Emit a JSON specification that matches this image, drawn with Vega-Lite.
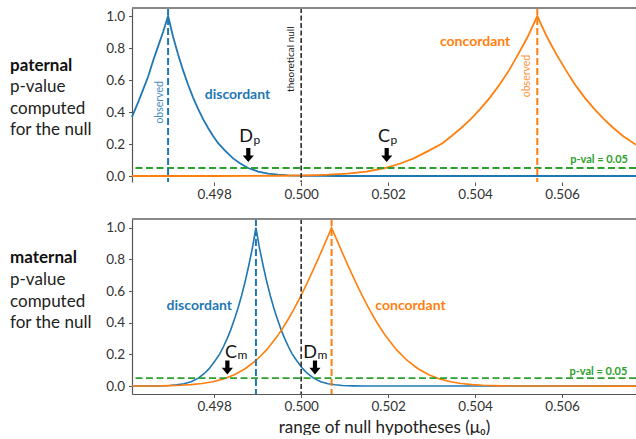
{
  "$schema": "https://vega.github.io/schema/vega-lite/v6.json",
  "background": "white",
  "padding": {"left": 10, "top": 7, "right": 0, "bottom": 0},
  "bounds": "flush",
  "spacing": 37,
  "config": {
    "view": {"stroke": null},
    "font": "Lato",
    "text": {"font": "Lato"},
    "axis": {"labelFont": "Lato", "labelFontSize": 13.5, "labelColor": "#333", "tickColor": "#555", "tickSize": 3.5, "domainColor": "#555", "domainWidth": 1.2, "grid": false, "titleFont": "Lato", "titleFontWeight": "normal", "titleColor": "#222", "labelOverlap": false}
  },
  "datasets": {
    "top": [
      {"x": 0.49611, "p": 0.37, "series": "discordant"},
      {"x": 0.49625, "p": 0.46, "series": "discordant"},
      {"x": 0.496365, "p": 0.54, "series": "discordant"},
      {"x": 0.49648, "p": 0.62, "series": "discordant"},
      {"x": 0.496595, "p": 0.72, "series": "discordant"},
      {"x": 0.49671, "p": 0.81, "series": "discordant"},
      {"x": 0.496825, "p": 0.9, "series": "discordant"},
      {"x": 0.49694, "p": 1.0, "series": "discordant"},
      {"x": 0.497055, "p": 0.87, "series": "discordant"},
      {"x": 0.49717, "p": 0.76, "series": "discordant"},
      {"x": 0.497285, "p": 0.66, "series": "discordant"},
      {"x": 0.4974, "p": 0.57, "series": "discordant"},
      {"x": 0.497515, "p": 0.49, "series": "discordant"},
      {"x": 0.49763, "p": 0.42, "series": "discordant"},
      {"x": 0.497745, "p": 0.355, "series": "discordant"},
      {"x": 0.49786, "p": 0.3, "series": "discordant"},
      {"x": 0.497975, "p": 0.25, "series": "discordant"},
      {"x": 0.49809, "p": 0.205, "series": "discordant"},
      {"x": 0.498244, "p": 0.16, "series": "discordant"},
      {"x": 0.498435, "p": 0.11, "series": "discordant"},
      {"x": 0.4986, "p": 0.078, "series": "discordant"},
      {"x": 0.49878, "p": 0.05, "series": "discordant"},
      {"x": 0.49901, "p": 0.028, "series": "discordant"},
      {"x": 0.49924, "p": 0.015, "series": "discordant"},
      {"x": 0.49947, "p": 0.008, "series": "discordant"},
      {"x": 0.4997, "p": 0.004, "series": "discordant"},
      {"x": 0.500045, "p": 0.0015, "series": "discordant"},
      {"x": 0.50039, "p": 0.0005, "series": "discordant"},
      {"x": 0.50085, "p": 0.0001, "series": "discordant"},
      {"x": 0.5077, "p": 0, "series": "discordant"},
      {"x": 0.49611, "p": 0, "series": "concordant"},
      {"x": 0.498, "p": 0.0001, "series": "concordant"},
      {"x": 0.49888, "p": 0.0005, "series": "concordant"},
      {"x": 0.49953, "p": 0.0015, "series": "concordant"},
      {"x": 0.50019, "p": 0.004, "series": "concordant"},
      {"x": 0.50062, "p": 0.008, "series": "concordant"},
      {"x": 0.50106, "p": 0.015, "series": "concordant"},
      {"x": 0.5015, "p": 0.028, "series": "concordant"},
      {"x": 0.50193, "p": 0.05, "series": "concordant"},
      {"x": 0.50228, "p": 0.078, "series": "concordant"},
      {"x": 0.50259, "p": 0.11, "series": "concordant"},
      {"x": 0.50295, "p": 0.16, "series": "concordant"},
      {"x": 0.50325, "p": 0.205, "series": "concordant"},
      {"x": 0.50346, "p": 0.25, "series": "concordant"},
      {"x": 0.50368, "p": 0.3, "series": "concordant"},
      {"x": 0.5039, "p": 0.355, "series": "concordant"},
      {"x": 0.50412, "p": 0.42, "series": "concordant"},
      {"x": 0.50434, "p": 0.49, "series": "concordant"},
      {"x": 0.50456, "p": 0.57, "series": "concordant"},
      {"x": 0.50478, "p": 0.66, "series": "concordant"},
      {"x": 0.50499, "p": 0.76, "series": "concordant"},
      {"x": 0.50521, "p": 0.87, "series": "concordant"},
      {"x": 0.50543, "p": 1.0, "series": "concordant"},
      {"x": 0.50565, "p": 0.87, "series": "concordant"},
      {"x": 0.50587, "p": 0.76, "series": "concordant"},
      {"x": 0.50609, "p": 0.66, "series": "concordant"},
      {"x": 0.5063, "p": 0.57, "series": "concordant"},
      {"x": 0.50652, "p": 0.49, "series": "concordant"},
      {"x": 0.50674, "p": 0.42, "series": "concordant"},
      {"x": 0.50696, "p": 0.355, "series": "concordant"},
      {"x": 0.50718, "p": 0.3, "series": "concordant"},
      {"x": 0.5074, "p": 0.25, "series": "concordant"},
      {"x": 0.5077, "p": 0.195, "series": "concordant"}
    ],
    "bottom": [
      {"x": 0.49611, "p": 0.0001, "series": "discordant"},
      {"x": 0.496476, "p": 0.0005, "series": "discordant"},
      {"x": 0.496724, "p": 0.0015, "series": "discordant"},
      {"x": 0.496973, "p": 0.004, "series": "discordant"},
      {"x": 0.497138, "p": 0.008, "series": "discordant"},
      {"x": 0.497304, "p": 0.015, "series": "discordant"},
      {"x": 0.49747, "p": 0.028, "series": "discordant"},
      {"x": 0.497635, "p": 0.05, "series": "discordant"},
      {"x": 0.497768, "p": 0.078, "series": "discordant"},
      {"x": 0.497884, "p": 0.11, "series": "discordant"},
      {"x": 0.498021, "p": 0.16, "series": "discordant"},
      {"x": 0.498132, "p": 0.205, "series": "discordant"},
      {"x": 0.498215, "p": 0.25, "series": "discordant"},
      {"x": 0.498298, "p": 0.3, "series": "discordant"},
      {"x": 0.49838, "p": 0.355, "series": "discordant"},
      {"x": 0.498463, "p": 0.42, "series": "discordant"},
      {"x": 0.498546, "p": 0.49, "series": "discordant"},
      {"x": 0.498629, "p": 0.57, "series": "discordant"},
      {"x": 0.498712, "p": 0.66, "series": "discordant"},
      {"x": 0.498794, "p": 0.76, "series": "discordant"},
      {"x": 0.498877, "p": 0.87, "series": "discordant"},
      {"x": 0.49896, "p": 1.0, "series": "discordant"},
      {"x": 0.499043, "p": 0.87, "series": "discordant"},
      {"x": 0.499126, "p": 0.76, "series": "discordant"},
      {"x": 0.499208, "p": 0.66, "series": "discordant"},
      {"x": 0.499291, "p": 0.57, "series": "discordant"},
      {"x": 0.499374, "p": 0.49, "series": "discordant"},
      {"x": 0.499457, "p": 0.42, "series": "discordant"},
      {"x": 0.49954, "p": 0.355, "series": "discordant"},
      {"x": 0.499622, "p": 0.3, "series": "discordant"},
      {"x": 0.499705, "p": 0.25, "series": "discordant"},
      {"x": 0.499788, "p": 0.205, "series": "discordant"},
      {"x": 0.499899, "p": 0.16, "series": "discordant"},
      {"x": 0.500036, "p": 0.11, "series": "discordant"},
      {"x": 0.500152, "p": 0.078, "series": "discordant"},
      {"x": 0.500285, "p": 0.05, "series": "discordant"},
      {"x": 0.50045, "p": 0.028, "series": "discordant"},
      {"x": 0.500616, "p": 0.015, "series": "discordant"},
      {"x": 0.500782, "p": 0.008, "series": "discordant"},
      {"x": 0.500947, "p": 0.004, "series": "discordant"},
      {"x": 0.501196, "p": 0.0015, "series": "discordant"},
      {"x": 0.501444, "p": 0.0005, "series": "discordant"},
      {"x": 0.501775, "p": 0.0001, "series": "discordant"},
      {"x": 0.5077, "p": 0, "series": "discordant"},
      {"x": 0.49611, "p": 0.0002, "series": "concordant"},
      {"x": 0.496229, "p": 0.00032, "series": "concordant"},
      {"x": 0.496601, "p": 0.00097, "series": "concordant"},
      {"x": 0.496974, "p": 0.0027, "series": "concordant"},
      {"x": 0.497222, "p": 0.0051, "series": "concordant"},
      {"x": 0.497471, "p": 0.0093, "series": "concordant"},
      {"x": 0.497719, "p": 0.0164, "series": "concordant"},
      {"x": 0.497968, "p": 0.0278, "series": "concordant"},
      {"x": 0.498216, "p": 0.0455, "series": "concordant"},
      {"x": 0.498464, "p": 0.0719, "series": "concordant"},
      {"x": 0.498713, "p": 0.1096, "series": "concordant"},
      {"x": 0.498961, "p": 0.1615, "series": "concordant"},
      {"x": 0.49921, "p": 0.2301, "series": "concordant"},
      {"x": 0.499458, "p": 0.3173, "series": "concordant"},
      {"x": 0.499582, "p": 0.3681, "series": "concordant"},
      {"x": 0.499706, "p": 0.4237, "series": "concordant"},
      {"x": 0.499831, "p": 0.4839, "series": "concordant"},
      {"x": 0.499955, "p": 0.5485, "series": "concordant"},
      {"x": 0.500079, "p": 0.6171, "series": "concordant"},
      {"x": 0.500203, "p": 0.6892, "series": "concordant"},
      {"x": 0.500327, "p": 0.7642, "series": "concordant"},
      {"x": 0.500452, "p": 0.8415, "series": "concordant"},
      {"x": 0.500576, "p": 0.9203, "series": "concordant"},
      {"x": 0.5007, "p": 1.0, "series": "concordant"},
      {"x": 0.500824, "p": 0.9203, "series": "concordant"},
      {"x": 0.500948, "p": 0.8415, "series": "concordant"},
      {"x": 0.501073, "p": 0.7642, "series": "concordant"},
      {"x": 0.501197, "p": 0.6892, "series": "concordant"},
      {"x": 0.501321, "p": 0.6171, "series": "concordant"},
      {"x": 0.501445, "p": 0.5485, "series": "concordant"},
      {"x": 0.501569, "p": 0.4839, "series": "concordant"},
      {"x": 0.501694, "p": 0.4237, "series": "concordant"},
      {"x": 0.501818, "p": 0.3681, "series": "concordant"},
      {"x": 0.501942, "p": 0.3173, "series": "concordant"},
      {"x": 0.50219, "p": 0.2301, "series": "concordant"},
      {"x": 0.502439, "p": 0.1615, "series": "concordant"},
      {"x": 0.502687, "p": 0.1096, "series": "concordant"},
      {"x": 0.502936, "p": 0.0719, "series": "concordant"},
      {"x": 0.503184, "p": 0.0455, "series": "concordant"},
      {"x": 0.503432, "p": 0.0278, "series": "concordant"},
      {"x": 0.503681, "p": 0.0164, "series": "concordant"},
      {"x": 0.503929, "p": 0.0093, "series": "concordant"},
      {"x": 0.504178, "p": 0.0051, "series": "concordant"},
      {"x": 0.504426, "p": 0.0027, "series": "concordant"},
      {"x": 0.504799, "p": 0.00097, "series": "concordant"},
      {"x": 0.505171, "p": 0.00032, "series": "concordant"},
      {"x": 0.505668, "p": 0.00006, "series": "concordant"},
      {"x": 0.5077, "p": 0, "series": "concordant"}
    ],
    "topRules": [
      {"x": 0.49694, "series": "discordant"},
      {"x": 0.50543, "series": "concordant"}
    ],
    "bottomRules": [
      {"x": 0.49896, "series": "discordant"},
      {"x": 0.5007, "series": "concordant"}
    ]
  },
  "vconcat": [
    {
      "width": 504,
      "height": 174,
      "layer": [
        {"data": {"name": "top"}, "mark": {"type": "line", "strokeWidth": 1.8},
          "encoding": {
            "x": {"field": "x", "type": "quantitative", "scale": {"domain": [0.49611, 0.5077], "nice": false, "zero": false}, "axis": {"values": [0.498, 0.5, 0.502, 0.504, 0.506], "format": ".3f", "title": null, "domain": false, "labelPadding": 2}},
            "y": {"field": "p", "type": "quantitative", "scale": {"domain": [-0.0375, 1.05], "nice": false, "zero": false}, "axis": {"values": [0, 0.2, 0.4, 0.6, 0.8, 1.0], "format": ".1f", "title": null, "labelPadding": 4}},
            "color": {"field": "series", "type": "nominal", "scale": {"domain": ["discordant", "concordant"], "range": ["#1f77b4", "#ff7f0e"]}, "legend": null}
          }},
        {"data": {"values": [{"y": 0.05}]}, "mark": {"type": "rule", "color": "#2ca02c", "strokeWidth": 2, "strokeDash": [7, 3.5]},
          "encoding": {"y": {"field": "y", "type": "quantitative", "axis": {"values": [0, 0.2, 0.4, 0.6, 0.8, 1.0], "format": ".1f", "title": null, "labelPadding": 4}}}},
        {"data": {"name": "topRules"}, "mark": {"type": "rule", "strokeWidth": 2, "strokeDash": [7, 3]},
          "encoding": {"x": {"field": "x", "type": "quantitative", "axis": {"values": [0.498, 0.5, 0.502, 0.504, 0.506], "format": ".3f", "title": null, "domain": false, "labelPadding": 2}}, "color": {"field": "series", "type": "nominal", "legend": null}}},
        {"data": {"values": [{"x": 0.5}]}, "mark": {"type": "rule", "color": "#222222", "strokeWidth": 1.5, "strokeDash": [5, 2.5]},
          "encoding": {"x": {"field": "x", "type": "quantitative", "axis": {"values": [0.498, 0.5, 0.502, 0.504, 0.506], "format": ".3f", "title": null, "domain": false, "labelPadding": 2}}}},
        {"data": {"values": [{"y": 1.05}]}, "mark": {"type": "rule", "color": "#888888", "strokeWidth": 2},
          "encoding": {"y": {"field": "y", "type": "quantitative", "axis": {"values": [0, 0.2, 0.4, 0.6, 0.8, 1.0], "format": ".1f", "title": null, "labelPadding": 4}}}},
        {"data": {"values": [
            {"x": 0.498536, "y": 0.506, "text": "discordant", "series": "discordant", "kind": "big"},
            {"x": 0.5040, "y": 0.84, "text": "concordant", "series": "concordant", "kind": "big"}]},
          "mark": {"type": "text", "fontSize": 14, "fontWeight": "bold", "align": "center", "baseline": "middle"},
          "encoding": {"x": {"field": "x", "type": "quantitative", "axis": {"values": [0.498, 0.5, 0.502, 0.504, 0.506], "format": ".3f", "title": null, "domain": false, "labelPadding": 2}}, "y": {"field": "y", "type": "quantitative", "axis": {"values": [0, 0.2, 0.4, 0.6, 0.8, 1.0], "format": ".1f", "title": null, "labelPadding": 4}}, "text": {"field": "text"}, "color": {"field": "series", "type": "nominal", "legend": null}}},
        {"data": {"values": [{"x": 0.49675, "y": 0.46, "text": "observed", "series": "discordant"}, {"x": 0.505187, "y": 0.625, "text": "observed", "series": "concordant"}]},
          "mark": {"type": "text", "fontSize": 10.5, "angle": 270, "align": "center", "baseline": "middle", "opacity": 0.85},
          "encoding": {"x": {"field": "x", "type": "quantitative", "axis": {"values": [0.498, 0.5, 0.502, 0.504, 0.506], "format": ".3f", "title": null, "domain": false, "labelPadding": 2}}, "y": {"field": "y", "type": "quantitative", "axis": {"values": [0, 0.2, 0.4, 0.6, 0.8, 1.0], "format": ".1f", "title": null, "labelPadding": 4}}, "text": {"field": "text"}, "color": {"field": "series", "type": "nominal", "legend": null}}},
        {"data": {"values": [{"x": 0.49976, "y": 0.73, "text": "theoretical null"}]},
          "mark": {"type": "text", "fontSize": 10, "angle": 270, "align": "center", "baseline": "middle", "color": "#222"},
          "encoding": {"x": {"field": "x", "type": "quantitative", "axis": {"values": [0.498, 0.5, 0.502, 0.504, 0.506], "format": ".3f", "title": null, "domain": false, "labelPadding": 2}}, "y": {"field": "y", "type": "quantitative", "axis": {"values": [0, 0.2, 0.4, 0.6, 0.8, 1.0], "format": ".1f", "title": null, "labelPadding": 4}}, "text": {"field": "text"}}},
        {"data": {"values": [{"x": 0.507516, "y": 0.10, "text": "p-val = 0.05"}]},
          "mark": {"type": "text", "fontSize": 11, "fontWeight": "bold", "align": "right", "baseline": "middle", "color": "#2ca02c"},
          "encoding": {"x": {"field": "x", "type": "quantitative", "axis": {"values": [0.498, 0.5, 0.502, 0.504, 0.506], "format": ".3f", "title": null, "domain": false, "labelPadding": 2}}, "y": {"field": "y", "type": "quantitative", "axis": {"values": [0, 0.2, 0.4, 0.6, 0.8, 1.0], "format": ".1f", "title": null, "labelPadding": 4}}, "text": {"field": "text"}}},
        {"data": {"values": [{"x": 0.498893, "y": 0.214, "text": "D"}, {"x": 0.502043, "y": 0.214, "text": "C"}]},
          "mark": {"type": "text", "fontSize": 18, "align": "right", "baseline": "alphabetic", "color": "#111"},
          "encoding": {"x": {"field": "x", "type": "quantitative", "axis": {"values": [0.498, 0.5, 0.502, 0.504, 0.506], "format": ".3f", "title": null, "domain": false, "labelPadding": 2}}, "y": {"field": "y", "type": "quantitative", "axis": {"values": [0, 0.2, 0.4, 0.6, 0.8, 1.0], "format": ".1f", "title": null, "labelPadding": 4}}, "text": {"field": "text"}}},
        {"data": {"values": [{"x": 0.498893, "y": 0.214, "text": "p"}, {"x": 0.502043, "y": 0.214, "text": "p"}]},
          "mark": {"type": "text", "fontSize": 12, "align": "left", "baseline": "alphabetic", "dx": 0.5, "dy": 2, "color": "#111"},
          "encoding": {"x": {"field": "x", "type": "quantitative", "axis": {"values": [0.498, 0.5, 0.502, 0.504, 0.506], "format": ".3f", "title": null, "domain": false, "labelPadding": 2}}, "y": {"field": "y", "type": "quantitative", "axis": {"values": [0, 0.2, 0.4, 0.6, 0.8, 1.0], "format": ".1f", "title": null, "labelPadding": 4}}, "text": {"field": "text"}}},
        {"data": {"values": [{"x": 0.498784, "y": 0.131}, {"x": 0.501967, "y": 0.131}]},
          "mark": {"type": "point", "shape": "M-0.3,-1L0.3,-1L0.3,0.05L0.8,0.05L0,1L-0.8,0.05L-0.3,0.05Z", "size": 196, "filled": true, "color": "#000", "opacity": 1, "strokeWidth": 0},
          "encoding": {"x": {"field": "x", "type": "quantitative", "axis": {"values": [0.498, 0.5, 0.502, 0.504, 0.506], "format": ".3f", "title": null, "domain": false, "labelPadding": 2}}, "y": {"field": "y", "type": "quantitative", "axis": {"values": [0, 0.2, 0.4, 0.6, 0.8, 1.0], "format": ".1f", "title": null, "labelPadding": 4}}}},
        {"data": {"values": [{"x": 0.493305, "y": 0.656, "text": "paternal"}]},
          "mark": {"type": "text", "fontSize": 17, "fontWeight": "bold", "align": "left", "baseline": "alphabetic", "color": "#111"},
          "encoding": {"x": {"field": "x", "type": "quantitative", "axis": {"values": [0.498, 0.5, 0.502, 0.504, 0.506], "format": ".3f", "title": null, "domain": false, "labelPadding": 2}}, "y": {"field": "y", "type": "quantitative", "axis": {"values": [0, 0.2, 0.4, 0.6, 0.8, 1.0], "format": ".1f", "title": null, "labelPadding": 4}}, "text": {"field": "text"}}},
        {"data": {"values": [{"x": 0.493305, "y": 0.523, "text": "p-value"}, {"x": 0.493305, "y": 0.389, "text": "computed"}, {"x": 0.493305, "y": 0.256, "text": "for the null"}]},
          "mark": {"type": "text", "fontSize": 17, "align": "left", "baseline": "alphabetic", "color": "#222"},
          "encoding": {"x": {"field": "x", "type": "quantitative", "axis": {"values": [0.498, 0.5, 0.502, 0.504, 0.506], "format": ".3f", "title": null, "domain": false, "labelPadding": 2}}, "y": {"field": "y", "type": "quantitative", "axis": {"values": [0, 0.2, 0.4, 0.6, 0.8, 1.0], "format": ".1f", "title": null, "labelPadding": 4}}, "text": {"field": "text"}}}
      ]
    },
    {
      "width": 504,
      "height": 175,
      "layer": [
        {"data": {"name": "bottom"}, "mark": {"type": "line", "strokeWidth": 1.6},
          "encoding": {
            "x": {"field": "x", "type": "quantitative", "scale": {"domain": [0.49611, 0.5077], "nice": false, "zero": false}, "axis": {"values": [0.498, 0.5, 0.502, 0.504, 0.506], "format": ".3f", "title": "range of null hypotheses (μ₀)", "titleFontSize": 17, "titlePadding": 6, "labelPadding": 2}},
            "y": {"field": "p", "type": "quantitative", "scale": {"domain": [-0.05, 1.055], "nice": false, "zero": false}, "axis": {"values": [0, 0.2, 0.4, 0.6, 0.8, 1.0], "format": ".1f", "title": null, "labelPadding": 4}},
            "color": {"field": "series", "type": "nominal", "scale": {"domain": ["discordant", "concordant"], "range": ["#1f77b4", "#ff7f0e"]}, "legend": null}
          }},
        {"data": {"values": [{"y": 0.05}]}, "mark": {"type": "rule", "color": "#2ca02c", "strokeWidth": 1.6, "strokeDash": [7, 3.5]},
          "encoding": {"y": {"field": "y", "type": "quantitative", "axis": {"values": [0, 0.2, 0.4, 0.6, 0.8, 1.0], "format": ".1f", "title": null, "labelPadding": 4}}}},
        {"data": {"name": "bottomRules"}, "mark": {"type": "rule", "strokeWidth": 2, "strokeDash": [7, 3]},
          "encoding": {"x": {"field": "x", "type": "quantitative", "axis": {"values": [0.498, 0.5, 0.502, 0.504, 0.506], "format": ".3f", "title": "range of null hypotheses (μ₀)", "titleFontSize": 17, "titlePadding": 6, "labelPadding": 2}}, "color": {"field": "series", "type": "nominal", "legend": null}}},
        {"data": {"values": [{"x": 0.5}]}, "mark": {"type": "rule", "color": "#222222", "strokeWidth": 1.5, "strokeDash": [5, 2.5]},
          "encoding": {"x": {"field": "x", "type": "quantitative", "axis": {"values": [0.498, 0.5, 0.502, 0.504, 0.506], "format": ".3f", "title": "range of null hypotheses (μ₀)", "titleFontSize": 17, "titlePadding": 6, "labelPadding": 2}}}},
        {"data": {"values": [{"y": 1.055}]}, "mark": {"type": "rule", "color": "#888888", "strokeWidth": 2},
          "encoding": {"y": {"field": "y", "type": "quantitative", "axis": {"values": [0, 0.2, 0.4, 0.6, 0.8, 1.0], "format": ".1f", "title": null, "labelPadding": 4}}}},
        {"data": {"values": [{"x": 0.497658, "y": 0.508, "text": "discordant", "series": "discordant"}, {"x": 0.502514, "y": 0.508, "text": "concordant", "series": "concordant"}]},
          "mark": {"type": "text", "fontSize": 14, "fontWeight": "bold", "align": "center", "baseline": "middle"},
          "encoding": {"x": {"field": "x", "type": "quantitative", "axis": {"values": [0.498, 0.5, 0.502, 0.504, 0.506], "format": ".3f", "title": "range of null hypotheses (μ₀)", "titleFontSize": 17, "titlePadding": 6, "labelPadding": 2}}, "y": {"field": "y", "type": "quantitative", "axis": {"values": [0, 0.2, 0.4, 0.6, 0.8, 1.0], "format": ".1f", "title": null, "labelPadding": 4}}, "text": {"field": "text"}, "color": {"field": "series", "type": "nominal", "legend": null}}},
        {"data": {"values": [{"x": 0.5075, "y": 0.088, "text": "p-val = 0.05"}]},
          "mark": {"type": "text", "fontSize": 11, "fontWeight": "bold", "align": "right", "baseline": "middle", "color": "#2ca02c"},
          "encoding": {"x": {"field": "x", "type": "quantitative", "axis": {"values": [0.498, 0.5, 0.502, 0.504, 0.506], "format": ".3f", "title": "range of null hypotheses (μ₀)", "titleFontSize": 17, "titlePadding": 6, "labelPadding": 2}}, "y": {"field": "y", "type": "quantitative", "axis": {"values": [0, 0.2, 0.4, 0.6, 0.8, 1.0], "format": ".1f", "title": null, "labelPadding": 4}}, "text": {"field": "text"}}},
        {"data": {"values": [{"x": 0.498525, "y": 0.18, "text": "C"}, {"x": 0.500364, "y": 0.18, "text": "D"}]},
          "mark": {"type": "text", "fontSize": 18, "align": "right", "baseline": "alphabetic", "color": "#111"},
          "encoding": {"x": {"field": "x", "type": "quantitative", "axis": {"values": [0.498, 0.5, 0.502, 0.504, 0.506], "format": ".3f", "title": "range of null hypotheses (μ₀)", "titleFontSize": 17, "titlePadding": 6, "labelPadding": 2}}, "y": {"field": "y", "type": "quantitative", "axis": {"values": [0, 0.2, 0.4, 0.6, 0.8, 1.0], "format": ".1f", "title": null, "labelPadding": 4}}, "text": {"field": "text"}}},
        {"data": {"values": [{"x": 0.498525, "y": 0.18, "text": "m"}, {"x": 0.500364, "y": 0.18, "text": "m"}]},
          "mark": {"type": "text", "fontSize": 12, "align": "left", "baseline": "alphabetic", "dx": 0.5, "dy": 1, "color": "#111"},
          "encoding": {"x": {"field": "x", "type": "quantitative", "axis": {"values": [0.498, 0.5, 0.502, 0.504, 0.506], "format": ".3f", "title": "range of null hypotheses (μ₀)", "titleFontSize": 17, "titlePadding": 6, "labelPadding": 2}}, "y": {"field": "y", "type": "quantitative", "axis": {"values": [0, 0.2, 0.4, 0.6, 0.8, 1.0], "format": ".1f", "title": null, "labelPadding": 4}}, "text": {"field": "text"}}},
        {"data": {"values": [{"x": 0.498303, "y": 0.118}, {"x": 0.500318, "y": 0.118}]},
          "mark": {"type": "point", "shape": "M-0.3,-1L0.3,-1L0.3,0.05L0.8,0.05L0,1L-0.8,0.05L-0.3,0.05Z", "size": 196, "filled": true, "color": "#000", "opacity": 1, "strokeWidth": 0},
          "encoding": {"x": {"field": "x", "type": "quantitative", "axis": {"values": [0.498, 0.5, 0.502, 0.504, 0.506], "format": ".3f", "title": "range of null hypotheses (μ₀)", "titleFontSize": 17, "titlePadding": 6, "labelPadding": 2}}, "y": {"field": "y", "type": "quantitative", "axis": {"values": [0, 0.2, 0.4, 0.6, 0.8, 1.0], "format": ".1f", "title": null, "labelPadding": 4}}}},
        {"data": {"values": [{"x": 0.493305, "y": 0.775, "text": "maternal"}]},
          "mark": {"type": "text", "fontSize": 17, "fontWeight": "bold", "align": "left", "baseline": "alphabetic", "color": "#111"},
          "encoding": {"x": {"field": "x", "type": "quantitative", "axis": {"values": [0.498, 0.5, 0.502, 0.504, 0.506], "format": ".3f", "title": "range of null hypotheses (μ₀)", "titleFontSize": 17, "titlePadding": 6, "labelPadding": 2}}, "y": {"field": "y", "type": "quantitative", "axis": {"values": [0, 0.2, 0.4, 0.6, 0.8, 1.0], "format": ".1f", "title": null, "labelPadding": 4}}, "text": {"field": "text"}}},
        {"data": {"values": [{"x": 0.493305, "y": 0.638, "text": "p-value"}, {"x": 0.493305, "y": 0.501, "text": "computed"}, {"x": 0.493305, "y": 0.364, "text": "for the null"}]},
          "mark": {"type": "text", "fontSize": 17, "align": "left", "baseline": "alphabetic", "color": "#222"},
          "encoding": {"x": {"field": "x", "type": "quantitative", "axis": {"values": [0.498, 0.5, 0.502, 0.504, 0.506], "format": ".3f", "title": "range of null hypotheses (μ₀)", "titleFontSize": 17, "titlePadding": 6, "labelPadding": 2}}, "y": {"field": "y", "type": "quantitative", "axis": {"values": [0, 0.2, 0.4, 0.6, 0.8, 1.0], "format": ".1f", "title": null, "labelPadding": 4}}, "text": {"field": "text"}}}
      ]
    }
  ]
}
